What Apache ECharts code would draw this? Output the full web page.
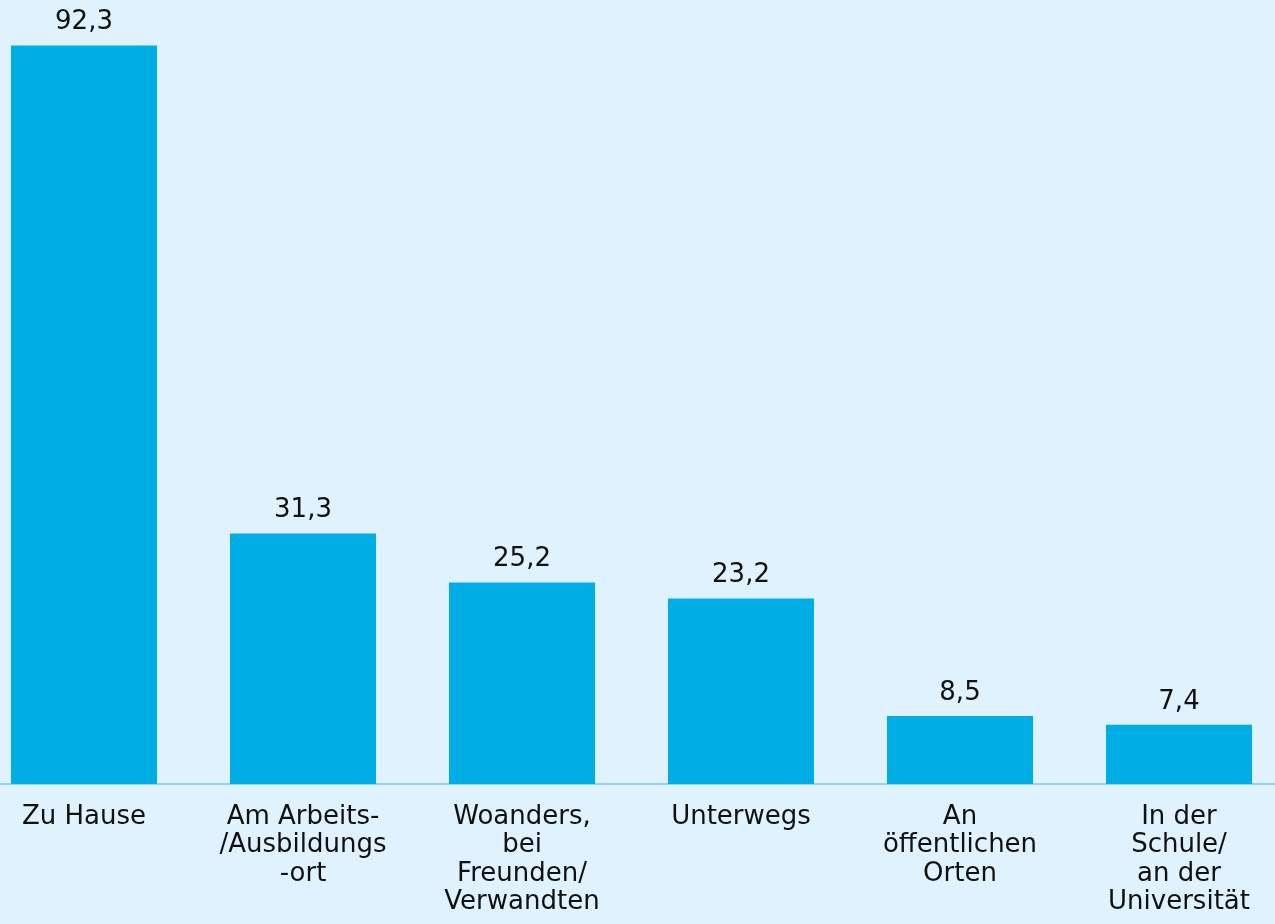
<!DOCTYPE html>
<html><head><meta charset="utf-8">
<script src="https://cdn.jsdelivr.net/npm/echarts@6/dist/echarts.min.js"></script>
<style>html,body{margin:0;padding:0;background:#dff2fd;}#c{width:1275px;height:924px;}</style>
</head><body><div id="c"></div>
<script>
const categories = ["Zu Hause", "Am Arbeits-\n/Ausbildungs\n-ort", "Woanders,\nbei\nFreunden/\nVerwandten", "Unterwegs", "An\nöffentlichen\nOrten", "In der\nSchule/\nan der\nUniversität"];
const values = [92.3, 31.3, 25.2, 23.2, 8.5, 7.4];

const chart = echarts.init(document.getElementById('c'));
chart.setOption({
  backgroundColor: '#dff2fd',
  animation: false,
  grid: { left: -25.5, right: -13.5, top: 0, bottom: 140, outerBoundsMode: 'none', containLabel: false },
  xAxis: {
    type: 'category', data: categories,
    axisLine: { lineStyle: { color: '#8dd5f0', width: 2 } },
    axisTick: { show: false },
    axisLabel: { interval: 0, color: '#111', fontFamily: 'DejaVu Sans', fontSize: 26, lineHeight: 28.3, margin: 19, align: 'center' }
  },
  yAxis: { type: 'value', min: 0, max: 98, show: false, splitLine: { show: false } },
  series: [{
    type: 'bar', data: values, barWidth: '66.7%',
    itemStyle: { color: '#00ade4' },
    label: { show: true, position: 'top', distance: 10, color: '#111', fontFamily: 'DejaVu Sans', fontSize: 26,
      formatter: p => p.value.toFixed(1).replace('.', ',') }
  }]
});
</script></body></html>
